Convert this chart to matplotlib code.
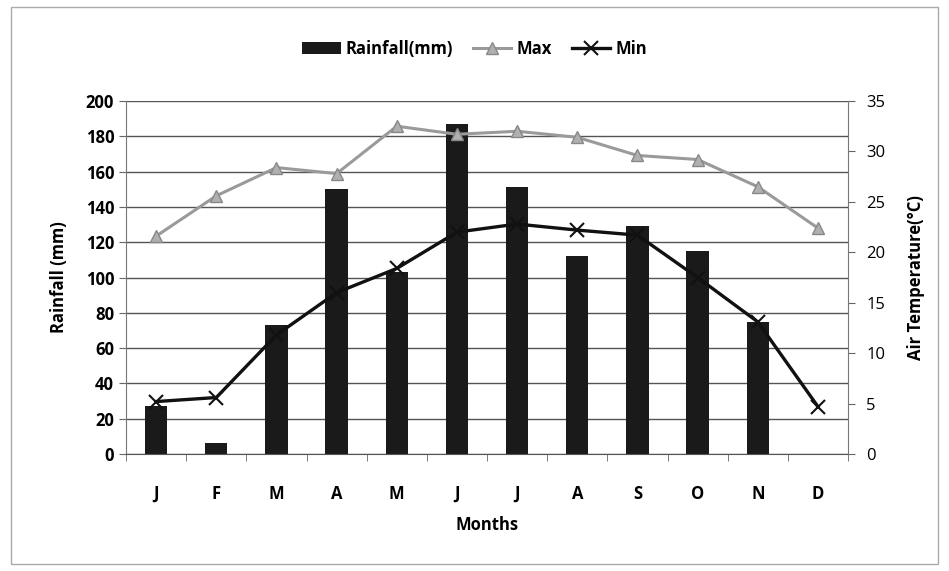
import matplotlib
matplotlib.use("Agg")
import matplotlib.pyplot as plt
from matplotlib.patches import Rectangle
import numpy as np

months = ["J", "F", "M", "A", "M", "J", "J", "A", "S", "O", "N", "D"]
rainfall = [27, 6, 73, 150, 103, 187, 151, 112, 129, 115, 75, 0]
t_max = [21.6, 25.6, 28.4, 27.8, 32.5, 31.7, 32.0, 31.4, 29.6, 29.2, 26.5, 22.4]
t_min = [5.2, 5.6, 11.8, 16.0, 18.4, 22.0, 22.8, 22.2, 21.7, 17.5, 13.1, 4.7]
left_ticks = list(range(0, 201, 20))
right_ticks = list(range(0, 36, 5))

plt.rcParams['font.family'] = ['Open Sans', 'DejaVu Sans']

fig = plt.figure(figsize=(9.49, 5.71), dpi=100)
ax = fig.add_axes([0.1328, 0.2049, 0.7608, 0.6182])
x = np.arange(len(months))

ax.set_axisbelow(True)
ax.grid(axis='y', color='#555555', linewidth=1.0)
bars = ax.bar(x, rainfall, width=0.37, color='#1a1a1a', zorder=2, label='Rainfall(mm)')
ax.set_ylim(0, 200)
ax.set_xlim(-0.5, 11.5)
ax.set_yticks(left_ticks)
ax.set_yticklabels([str(v) for v in left_ticks], fontsize=12, fontweight='bold')
ax.set_xticks(x)
ax.set_xticklabels(months, fontsize=12, fontweight='bold')
ax.set_xticks(np.arange(-0.5, 12, 1), minor=True)
ax.tick_params(axis='x', which='major', length=0, pad=22)
ax.tick_params(axis='x', which='minor', length=5, color='#666666')
ax.tick_params(axis='y', length=5, color='#666666')
for s in ['top', 'right']:
    ax.spines[s].set_visible(False)
ax.spines['left'].set_color('#777777')
ax.spines['bottom'].set_color('#555555')
ax.set_xlabel('Months', fontsize=12, fontweight='bold', labelpad=10)
ax.set_ylabel('Rainfall (mm)', fontsize=12, fontweight='bold', labelpad=13)

ax2 = ax.twinx()
l1, = ax2.plot(x, t_max, color='#9a9a9a', linewidth=2.2, marker='^', markersize=8,
               markerfacecolor='#b0b0b0', markeredgecolor='#888888', label='Max', zorder=3)
l2, = ax2.plot(x, t_min, color='#111111', linewidth=2.4, marker='x', markersize=10,
               markeredgewidth=1.5, label='Min', zorder=3)
ax2.set_ylim(0, 35)
ax2.set_yticks(right_ticks)
ax2.set_yticklabels([str(v) for v in right_ticks], fontsize=12)
ax2.tick_params(axis='y', length=5, color='#666666', pad=8)
for s in ['top', 'left', 'bottom']:
    ax2.spines[s].set_visible(False)
ax2.spines['right'].set_color('#777777')
ax2.set_ylabel('Air Temperature(°C)', fontsize=12, fontweight='bold', labelpad=16)

fig.legend([bars, l1, l2], ['Rainfall(mm)', 'Max', 'Min'], loc='center',
           bbox_to_anchor=(0.5, 0.915), ncol=3, frameon=False,
           handlelength=2.3, columnspacing=1.2, handletextpad=0.3,
           prop={'weight': 'bold', 'size': 12})

fig.patches.append(Rectangle((0.012, 0.012), 0.976, 0.976, transform=fig.transFigure,
                             fill=False, edgecolor='#aaaaaa', linewidth=1))

fig.savefig('out.png', dpi=100, facecolor='white')
